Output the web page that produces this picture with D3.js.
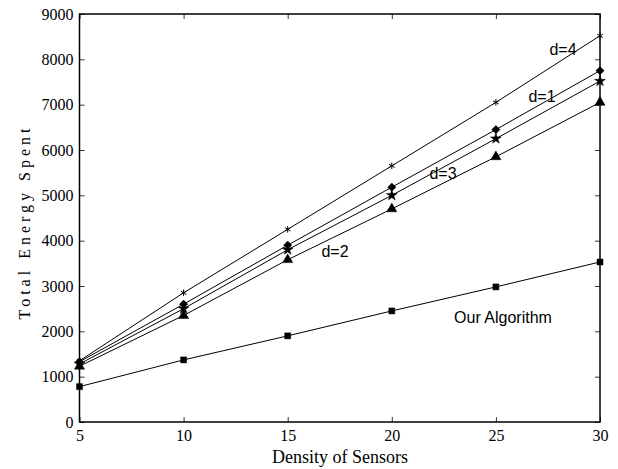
<!DOCTYPE html>
<html><head><meta charset="utf-8">
<script src="https://cdn.jsdelivr.net/npm/d3@7/dist/d3.min.js"></script>
<style>body{margin:0;background:#fff}svg{display:block}</style>
</head><body>
<svg id="c" width="618" height="469"></svg>
<script>
const xValues = [5, 10, 15, 20, 25, 30];
const d4 = [1350, 2850, 4250, 5650, 7050, 8520];
const d1 = [1330, 2600, 3900, 5180, 6450, 7750];
const d3s = [1280, 2500, 3800, 5000, 6250, 7520];
const d2 = [1230, 2350, 3580, 4700, 5850, 7050];
const ours = [780, 1370, 1900, 2450, 2980, 3530];
const xTicks = [5, 10, 15, 20, 25, 30];
const yTicks = [0, 1000, 2000, 3000, 4000, 5000, 6000, 7000, 8000, 9000];
const seriesNames = ["d=4", "d=1", "d=3", "d=2", "Our Algorithm"];
const markers = ["asterisk", "diamond", "star", "triangle", "square"];

const svg = d3.select("#c");
const L = 79.5, R = 600, T = 14, B = 422;
const x = d3.scaleLinear().domain([5, 30]).range([L, R]);
const y = d3.scaleLinear().domain([0, 9000]).range([B, T]);
const serif = "'Liberation Serif','Times New Roman',serif";
const sans = "'Liberation Sans',Arial,sans-serif";

// frame
svg.append("rect").attr("x", L).attr("y", T).attr("width", R - L).attr("height", B - T)
  .attr("fill", "none").attr("stroke", "#000").attr("stroke-width", 1.5);

// axes
const ax = svg.append("g").attr("transform", `translate(0,${B})`)
  .call(d3.axisBottom(x).tickValues(xTicks).tickSize(-5).tickPadding(8).tickFormat(d3.format("d")));
const axT = svg.append("g").attr("transform", `translate(0,${T})`)
  .call(d3.axisTop(x).tickValues(xTicks).tickSize(-5).tickFormat(""));
const ay = svg.append("g").attr("transform", `translate(${L},0)`)
  .call(d3.axisLeft(y).tickValues(yTicks).tickSize(-5).tickPadding(6).tickFormat(d3.format("d")));
const ayR = svg.append("g").attr("transform", `translate(${R},0)`)
  .call(d3.axisRight(y).tickValues(yTicks).tickSize(-5).tickFormat(""));
[ax, axT, ay, ayR].forEach(g => {
  g.select(".domain").remove();
  g.selectAll("line").attr("stroke", "#000").attr("stroke-width", 0.8);
  g.selectAll("text").attr("font-family", serif).attr("font-size", 16).attr("fill", "#000");
});

// axis titles
svg.append("text").attr("x", 340).attr("y", 463).attr("text-anchor", "middle")
  .attr("font-family", serif).attr("font-size", 18).text("Density of Sensors");
svg.append("text").attr("transform", `translate(30,222) rotate(-90)`)
  .attr("text-anchor", "middle").attr("font-family", serif).attr("font-size", 16)
  .attr("letter-spacing", 4).text("Total Energy Spent");

const allSeries = [d4, d1, d3s, d2, ours];
const line = d3.line().x((d, i) => x(xValues[i])).y(d => y(d));
const symMap = {
  asterisk: d3.symbolAsterisk, diamond: d3.symbolSquare, star: d3.symbolStar,
  triangle: d3.symbolTriangle, square: d3.symbolSquare
};
const sizeMap = {asterisk: 30, diamond: 34, star: 36, triangle: 44, square: 36};
allSeries.forEach((s, k) => {
  svg.append("path").datum(s).attr("d", line).attr("fill", "none")
    .attr("stroke", "#000").attr("stroke-width", 1);
  const m = markers[k];
  svg.selectAll(null).data(s).enter().append("path")
    .attr("transform", (d, i) => `translate(${x(xValues[i])},${y(d)})` + (m === "diamond" ? " rotate(45)" : ""))
    .attr("d", d3.symbol().type(symMap[m]).size(sizeMap[m]))
    .attr("fill", m === "asterisk" ? "none" : "#000")
    .attr("stroke", "#000").attr("stroke-width", m === "asterisk" ? 1 : 0.5);
});

// labels
const labelPos = [[563, 55], [542, 102], [443, 179], [335, 257], [503, 323]];
seriesNames.forEach((n, k) => {
  svg.append("text").attr("x", labelPos[k][0]).attr("y", labelPos[k][1])
    .attr("text-anchor", "middle").attr("font-family", sans).attr("font-size", 16)
    .attr("fill", "#000").text(n);
});
</script>
</body></html>
